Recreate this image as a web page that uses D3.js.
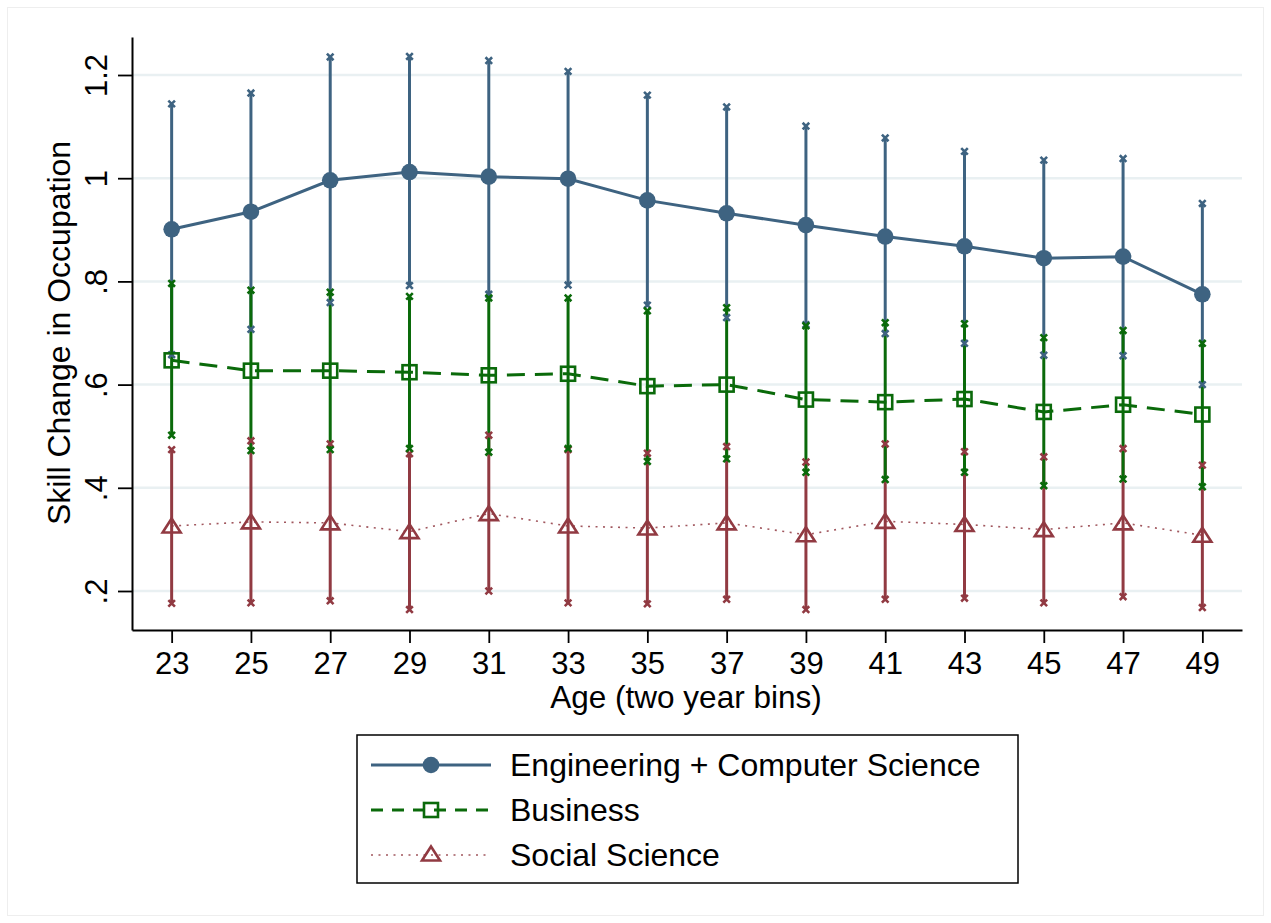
<!DOCTYPE html>
<html>
<head>
<meta charset="utf-8">
<script src="https://cdn.jsdelivr.net/npm/d3@7"></script>
<style>
  body { margin: 0; background: #fff; }
  svg { display: block; font-family: "Liberation Sans", Arial, Helvetica, sans-serif; }
</style>
</head>
<body>
<div id="chart"></div>
<script>
// age bins (x) and y tick labels
const ages = [23, 25, 27, 29, 31, 33, 35, 37, 39, 41, 43, 45, 47, 49]
const yTicks = [0.2, 0.4, 0.6, 0.8, 1.0, 1.2]
const yTickLabels = [".2", ".4", ".6", ".8", "1", "1.2"]

// Engineering + Computer Science
const engMean  = [0.901, 0.935, 0.996, 1.012, 1.003, 0.999, 0.957, 0.932, 0.909, 0.887, 0.868, 0.845, 0.848, 0.775]
const engUpper = [1.144, 1.165, 1.235, 1.236, 1.228, 1.207, 1.161, 1.138, 1.101, 1.078, 1.052, 1.035, 1.038, 0.951]
const engLower = [0.658, 0.707, 0.759, 0.792, 0.775, 0.793, 0.754, 0.730, 0.716, 0.699, 0.680, 0.657, 0.656, 0.600]

// Business
const busMean  = [0.647, 0.627, 0.627, 0.624, 0.618, 0.621, 0.597, 0.600, 0.571, 0.566, 0.572, 0.547, 0.561, 0.542]
const busUpper = [0.796, 0.783, 0.779, 0.771, 0.768, 0.768, 0.743, 0.749, 0.714, 0.720, 0.718, 0.691, 0.705, 0.680]
const busLower = [0.502, 0.472, 0.474, 0.476, 0.469, 0.476, 0.451, 0.456, 0.430, 0.416, 0.430, 0.404, 0.417, 0.402]

// Social Science
const socMean  = [0.326, 0.334, 0.332, 0.315, 0.350, 0.326, 0.322, 0.332, 0.309, 0.335, 0.329, 0.319, 0.332, 0.308]
const socUpper = [0.474, 0.491, 0.485, 0.466, 0.502, 0.474, 0.467, 0.480, 0.450, 0.485, 0.470, 0.460, 0.476, 0.444]
const socLower = [0.176, 0.177, 0.181, 0.164, 0.200, 0.177, 0.175, 0.184, 0.164, 0.184, 0.186, 0.177, 0.189, 0.168]

const seriesNames = ["Engineering + Computer Science", "Business", "Social Science"]

const colBlue = "#3e6381", colGreen = "#0a6a0a", colRed = "#913a42"

function mk(mean, lo, hi) {
  return ages.map((a, i) => ({ age: a, m: mean[i], lo: lo[i], hi: hi[i] }))
}
const eng = mk(engMean, engLower, engUpper)
const bus = mk(busMean, busLower, busUpper)
const soc = mk(socMean, socLower, socUpper)

const W = 1271, H = 923
const pLeft = 132, pRight = 1242, pTop = 37, pBottom = 630

const svg = d3.select("#chart").append("svg")
  .attr("width", W).attr("height", H)

// faint outer graph region border
svg.append("rect")
  .attr("x", 7.5).attr("y", 7.5).attr("width", W - 15).attr("height", H - 15)
  .attr("fill", "none").attr("stroke", "#eeeeee").attr("stroke-width", 1)

const x = d3.scaleLinear().domain([22, 50]).range([pLeft, pRight])
const y = d3.scaleLinear().domain([0.2, 1.2]).range([591, 75])
const yAx = d3.scaleLinear().domain([y.invert(pBottom), y.invert(pTop)]).range([pBottom, pTop])

// grid lines
svg.append("g").selectAll("line")
  .data(yTicks).enter().append("line")
  .attr("x1", pLeft).attr("x2", pRight)
  .attr("y1", d => y(d)).attr("y2", d => y(d))
  .attr("stroke", "#e9f0f2").attr("stroke-width", 2.5)

// axes
const yAxisG = svg.append("g")
  .attr("transform", `translate(${pLeft},0)`)
  .call(d3.axisLeft(yAx).tickValues(yTicks).tickSize(14).tickSizeOuter(0)
    .tickFormat((d, i) => yTickLabels[i]))
yAxisG.selectAll("text")
  .attr("x", 0).attr("dy", 0)
  .attr("transform", "translate(-25,0) rotate(-90)")
  .attr("text-anchor", "middle")
  .attr("font-size", 31).attr("fill", "#000")

const xAxisG = svg.append("g")
  .attr("transform", `translate(0,${pBottom})`)
  .call(d3.axisBottom(x).tickValues(ages).tickSize(13).tickSizeOuter(0))
xAxisG.selectAll("text")
  .attr("y", 44).attr("dy", 0)
  .attr("font-size", 31).attr("fill", "#000")

svg.selectAll(".domain").attr("stroke", "#000").attr("stroke-width", 2)
svg.selectAll(".tick line").attr("stroke", "#000").attr("stroke-width", 1.8)
svg.selectAll("g").attr("font-family", null)

// axis titles
svg.append("text")
  .attr("x", 686).attr("y", 708)
  .attr("text-anchor", "middle").attr("font-size", 31.5)
  .text("Age (two year bins)")
svg.append("text")
  .attr("transform", "translate(70,333) rotate(-90)")
  .attr("text-anchor", "middle").attr("font-size", 32)
  .text("Skill Change in Occupation")

// spikes (confidence intervals)
function spikes(data, color) {
  svg.append("g").selectAll("line")
    .data(data).enter().append("line")
    .attr("x1", d => x(d.age)).attr("x2", d => x(d.age))
    .attr("y1", d => y(d.lo)).attr("y2", d => y(d.hi))
    .attr("stroke", color).attr("stroke-width", 3)
}
function crossPath(cx, cy, s) {
  return `M${cx - s},${cy - s}L${cx + s},${cy + s}M${cx - s},${cy + s}L${cx + s},${cy - s}`
}
function caps(data, color) {
  const g = svg.append("g")
  data.forEach(d => {
    [d.lo, d.hi].forEach(v => {
      g.append("path")
        .attr("d", crossPath(x(d.age), y(v), 3.3))
        .attr("stroke", color).attr("stroke-width", 2.6).attr("fill", "none")
    })
  })
}
spikes(eng, colBlue)
spikes(soc, colRed)
spikes(bus, colGreen)
caps(eng, colBlue)
caps(soc, colRed)
caps(bus, colGreen)

// connected lines
const line = d3.line().x(d => x(d.age)).y(d => y(d.m))
svg.append("path").datum(soc).attr("d", line)
  .attr("fill", "none").attr("stroke", colRed).attr("stroke-width", 1.6)
  .attr("stroke-dasharray", "2,5.5").attr("opacity", 0.85)
svg.append("path").datum(bus).attr("d", line)
  .attr("fill", "none").attr("stroke", colGreen).attr("stroke-width", 3)
  .attr("stroke-dasharray", "18,10")
svg.append("path").datum(eng).attr("d", line)
  .attr("fill", "none").attr("stroke", colBlue).attr("stroke-width", 3)

// markers
function triPath(cx, cy) {
  return `M${cx},${cy - 7.5}L${cx + 9},${cy + 6.5}L${cx - 9},${cy + 6.5}Z`
}
svg.append("g").selectAll("path")
  .data(soc).enter().append("path")
  .attr("d", d => triPath(x(d.age), y(d.m)))
  .attr("fill", "none").attr("stroke", colRed).attr("stroke-width", 2.6)
svg.append("g").selectAll("rect")
  .data(bus).enter().append("rect")
  .attr("x", d => x(d.age) - 7).attr("y", d => y(d.m) - 7)
  .attr("width", 14).attr("height", 14)
  .attr("fill", "none").attr("stroke", colGreen).attr("stroke-width", 2.6)
svg.append("g").selectAll("circle")
  .data(eng).enter().append("circle")
  .attr("cx", d => x(d.age)).attr("cy", d => y(d.m)).attr("r", 8.3)
  .attr("fill", colBlue)

// legend
const lg = svg.append("g")
lg.append("rect")
  .attr("x", 357).attr("y", 735).attr("width", 661).attr("height", 148)
  .attr("fill", "#fff").attr("stroke", "#000").attr("stroke-width", 1.5)
const rowsY = [765, 810, 855]
const lineStyles = [
  { c: colBlue, w: 3, dash: null, op: 1 },
  { c: colGreen, w: 3, dash: "12,9", op: 1 },
  { c: colRed, w: 1.6, dash: "2,5.5", op: 0.85 }
]
seriesNames.forEach((name, i) => {
  const ly = rowsY[i], st = lineStyles[i]
  lg.append("line")
    .attr("x1", 371).attr("x2", 491).attr("y1", ly).attr("y2", ly)
    .attr("stroke", st.c).attr("stroke-width", st.w)
    .attr("stroke-dasharray", st.dash).attr("opacity", st.op)
  if (i === 0) {
    lg.append("circle").attr("cx", 431).attr("cy", ly).attr("r", 8.3).attr("fill", colBlue)
  } else if (i === 1) {
    lg.append("rect").attr("x", 424).attr("y", ly - 7).attr("width", 14).attr("height", 14)
      .attr("fill", "none").attr("stroke", colGreen).attr("stroke-width", 2.6)
  } else {
    lg.append("path").attr("d", triPath(431, ly - 1))
      .attr("fill", "none").attr("stroke", colRed).attr("stroke-width", 2.6)
  }
  lg.append("text")
    .attr("x", 510).attr("y", ly + 11)
    .attr("font-size", 32)
    .text(name)
})
</script>
</body>
</html>
